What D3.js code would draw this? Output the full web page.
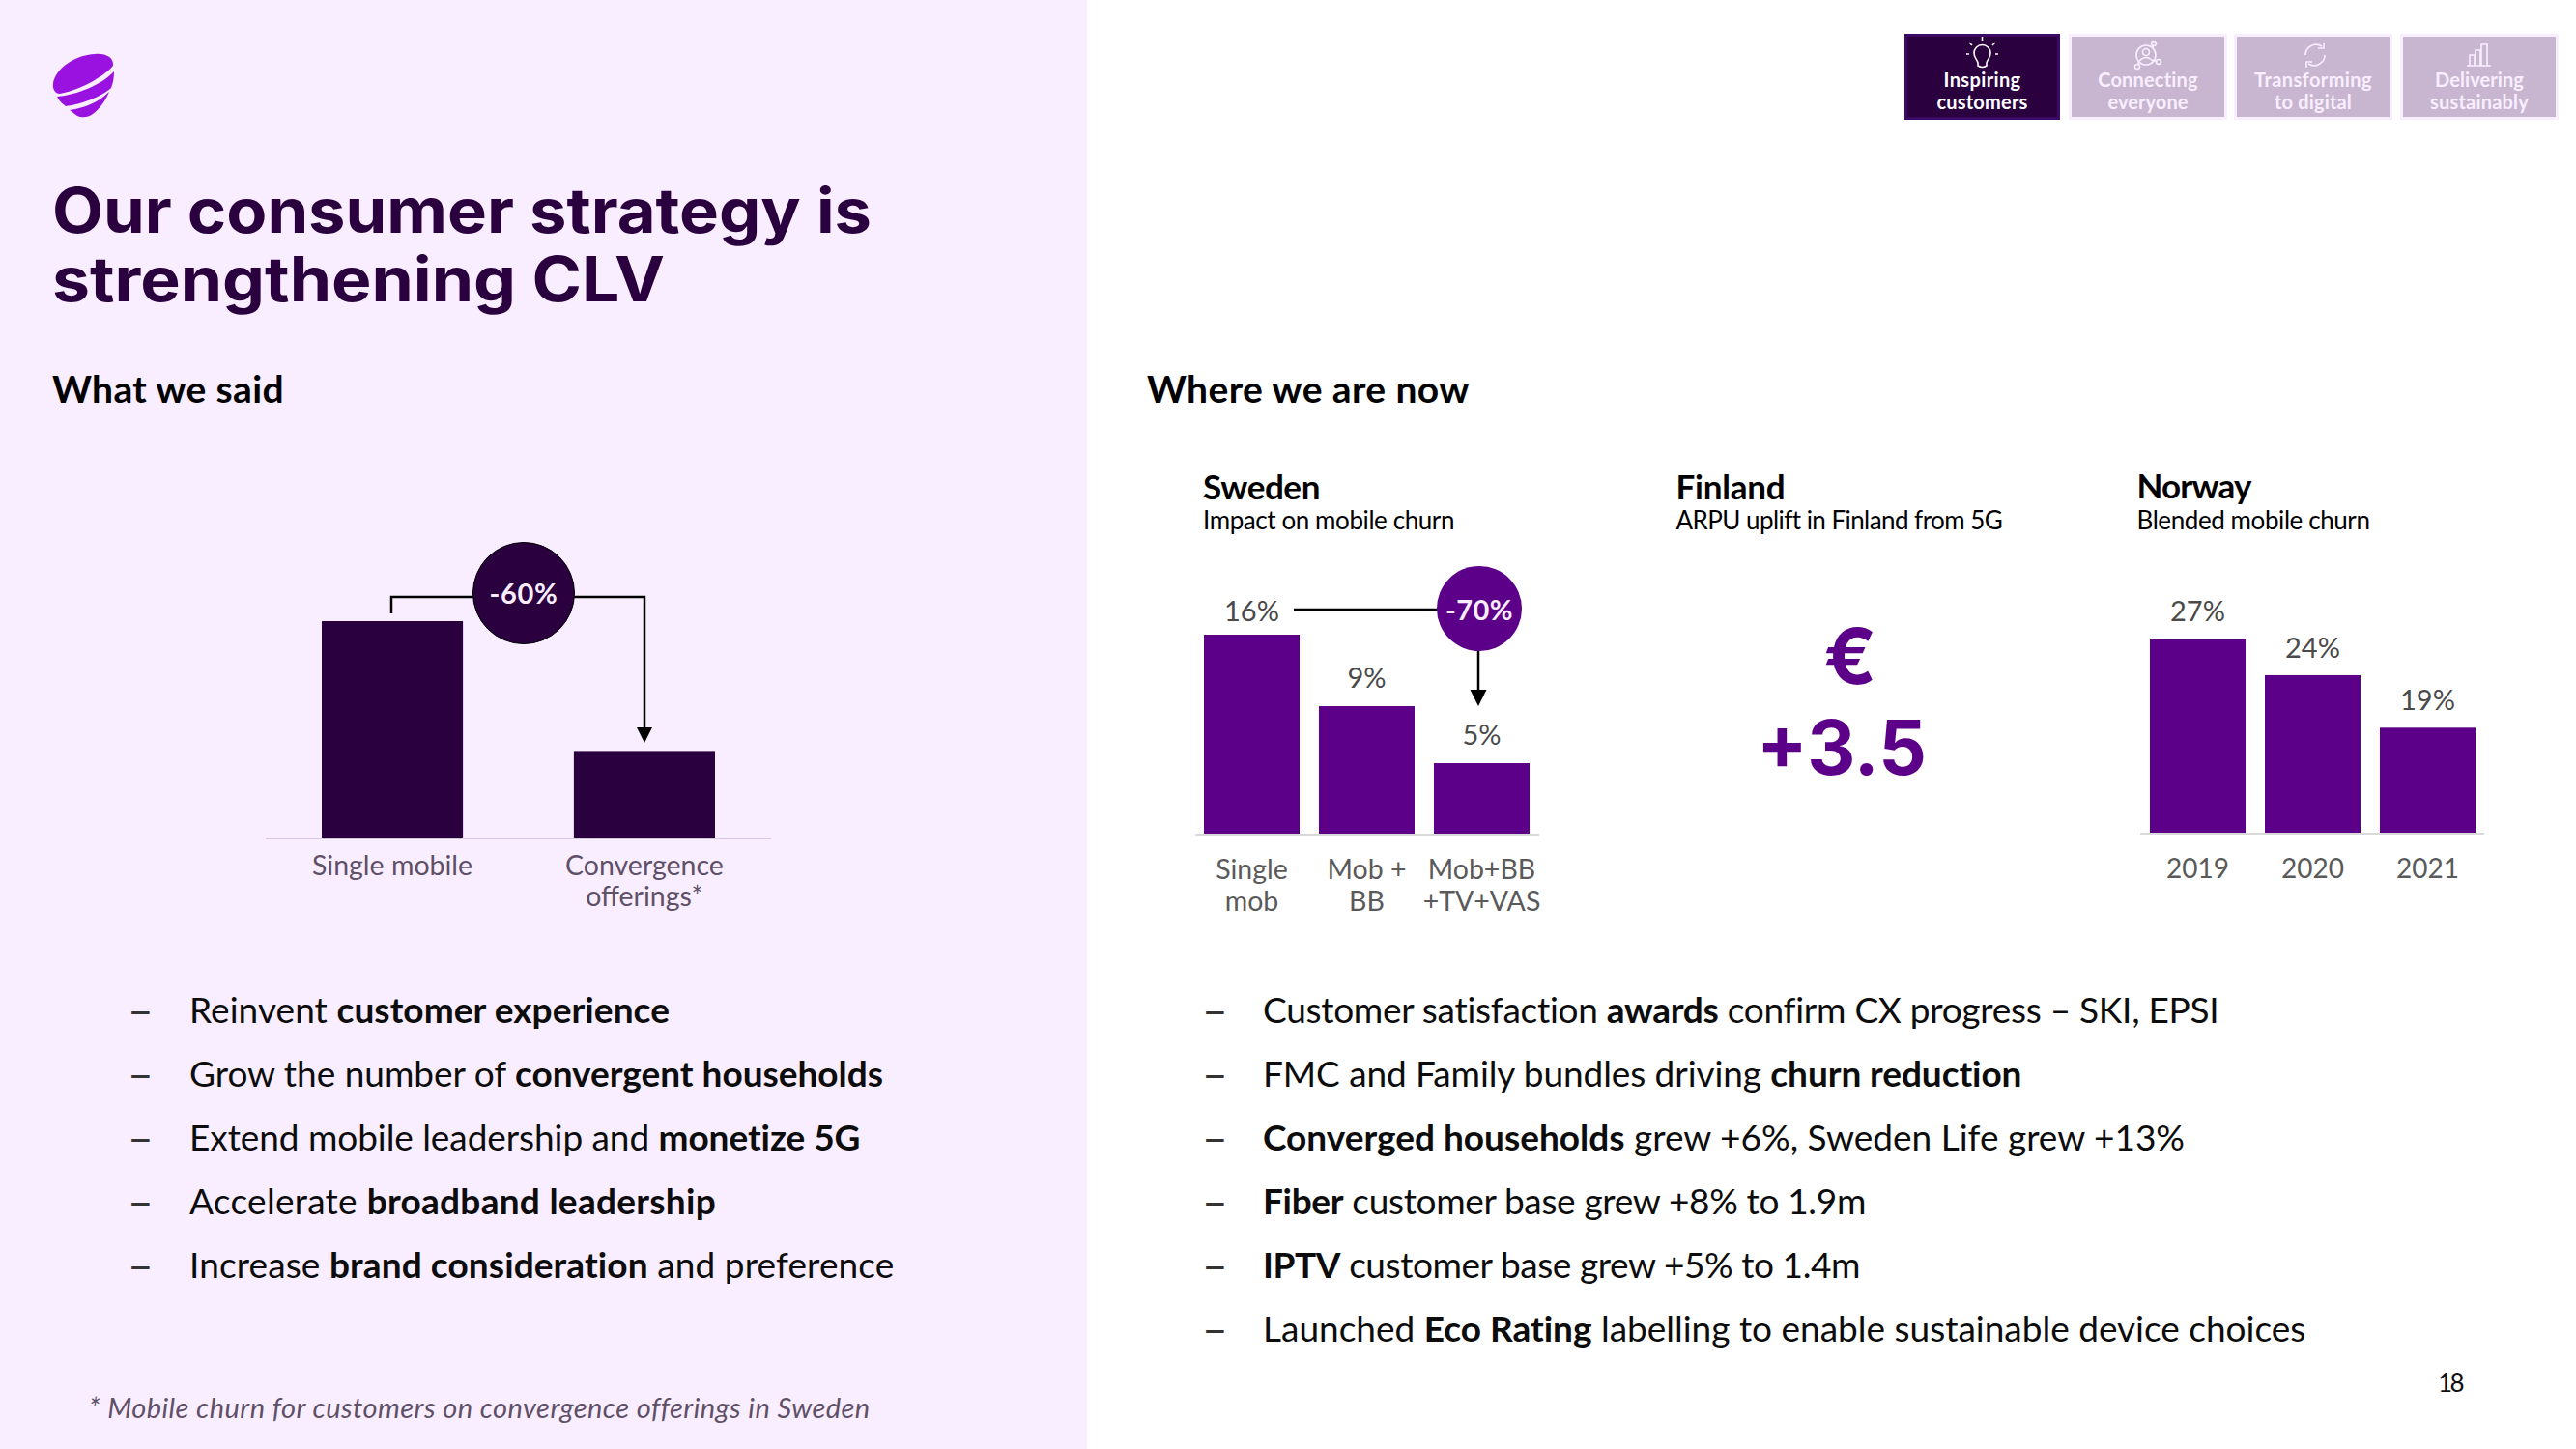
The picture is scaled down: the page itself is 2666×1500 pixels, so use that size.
<!DOCTYPE html>
<html><head><meta charset="utf-8">
<script src="https://cdn.jsdelivr.net/npm/d3@7/dist/d3.min.js"></script>
<style>html,body{margin:0;padding:0;background:#fff}svg{display:block}text{font-family:Lato,sans-serif}</style>
</head><body><svg id="c" width="2666" height="1500"></svg>
<script>
// ---- data ----
const saidCategories = ["Single mobile", "Convergence offerings*"];
const saidValues = [100, 40];
const swedenCategories = ["Single mob", "Mob + BB", "Mob+BB +TV+VAS"];
const swedenLabels = ["16%", "9%", "5%"];
const swedenBarLevels = [16, 10.25, 5.67];
const norwayCategories = ["2019", "2020", "2021"];
const norwayLabels = ["27%", "24%", "19%"];
const norwayBarLevels = [27, 21.9, 14.6];
const tiles = [["Inspiring","customers"],["Connecting","everyone"],["Transforming","to digital"],["Delivering","sustainably"]];
const tileTextWidths = [[80,94],[104,83],[122,80],[92,102]];
const saidBullets = [
 [["Reinvent ",0],["customer experience",1]],
 [["Grow the number of ",0],["convergent households",1]],
 [["Extend mobile leadership and ",0],["monetize 5G",1]],
 [["Accelerate ",0],["broadband leadership",1]],
 [["Increase ",0],["brand consideration",1],[" and preference",0]]];
const nowBullets = [
 [["Customer satisfaction ",0],["awards",1],[" confirm CX progress – SKI, EPSI",0]],
 [["FMC and Family bundles driving ",0],["churn reduction",1]],
 [["Converged households",1],[" grew +6%, Sweden Life grew +13%",0]],
 [["Fiber",1],[" customer base grew +8% to 1.9m",0]],
 [["IPTV",1],[" customer base grew +5% to 1.4m",0]],
 [["Launched ",0],["Eco Rating",1],[" labelling to enable sustainable device choices",0]]];
const saidBulletEnds = [693,914,891,741,926];
const nowBulletEnds = [2297,2093,2261,1931,1925,2387];

// ---- helpers ----
const svg = d3.select("#c");
const DEEP = "#2A003F", PURPLE = "#5C0089", LILAC = "#F9EEFF", GREY = "#4f4f4f", PGREY = "#5f5068";
function T(x,y,s,size,o={}){
  const t = svg.append("text").attr("x",x).attr("y",y).attr("font-size",size)
    .attr("fill",o.fill||"#000").attr("font-weight",o.weight||400)
    .attr("text-anchor",o.anchor||"start").text(s);
  if(o.family) t.style("font-family",o.family);
  if(o.italic) t.attr("font-style","italic");
  if(o.width) fit(t,o.width);
  if(o.stretch) t.attr("textLength",o.stretch).attr("lengthAdjust","spacingAndGlyphs");
  return t;
}
function fit(t,w){
  const n = t.text().length, cur = t.node().getComputedTextLength();
  t.style("letter-spacing",((w-cur)/n)+"px");
}
function bullets(rows,ends,dashX,textX){
  rows.forEach((runs,i)=>{
    const y = 1059 + i*66;
    T(dashX,y+3,"–",46,{fill:"#333"});
    const t = svg.append("text").attr("x",textX).attr("y",y).attr("font-size",37).attr("fill","#0c0c0c");
    runs.forEach(r=>t.append("tspan").attr("font-weight",r[1]?700:400).text(r[0]));
    fit(t,ends[i]-textX);
  });
}
function barChart(o){
  const x = d3.scaleBand().domain(o.cats).range(o.xr).paddingInner(o.pad).paddingOuter(0);
  const y = d3.scaleLinear().domain(o.yd).range(o.yr);
  svg.append("line").attr("x1",o.ax[0]).attr("x2",o.ax[1]).attr("y1",o.yr[0]+1).attr("y2",o.yr[0]+1)
     .attr("stroke",o.axc).attr("stroke-width",2);
  svg.selectAll(null).data(o.vals).enter().append("rect")
     .attr("x",(d,i)=>x(o.cats[i])).attr("width",x.bandwidth())
     .attr("y",d=>y(d)).attr("height",d=>y(o.yd[0])-y(d)).attr("fill",o.fill);
  const ax = svg.append("g").attr("transform",`translate(0,${o.yr[0]})`)
     .call(d3.axisBottom(x).tickSize(0).tickFormat(""));
  ax.select(".domain").remove();
  ax.selectAll(".tick text").each(function(d){
    const g = d3.select(this).attr("fill",o.tickc).attr("font-size",o.tickSize).attr("y",0).attr("dy",0);
    (o.wrap[d]||[d]).forEach((l,k)=>g.append("tspan").attr("x",0).attr("y",o.tickY+k*o.tickLead).text(l));
  });
  ax.selectAll(".tick text").style("font-family","Lato,sans-serif");
  if(o.labels) o.labels.forEach((l,i)=>{
    T(x(o.cats[i])+x.bandwidth()/2, y(o.vals[i])-o.labGap[i], l, 29, {anchor:"middle",fill:"#4a4a4a"});
  });
  return {x,y};
}
function arrowHead(xc,tip,hw,h){
  svg.append("path").attr("d",`M${xc-hw},${tip-h}L${xc+hw},${tip-h}L${xc},${tip}Z`).attr("fill","#000");
}

// ---- panels ----
svg.append("rect").attr("width",1125).attr("height",1500).attr("fill",LILAC);

// logo
const LOGO="#9A12E0";
svg.append("path").attr("fill",LOGO).attr("d","M55,86 C58,70 78,57 98,56 C110,55 118,60 117,68 C110,77 85,93 62,97 C57,97 54,92 55,86Z");
svg.append("path").attr("fill",LOGO).attr("d","M118,74 C118,80 117,86 115,91 C105,100 84,108 68,110 C64,107 61,104 59,100 C80,98 105,88 118,74Z");
svg.append("path").attr("fill",LOGO).attr("d","M113,95 C110,103 103,113 96,118 C91,122 84,122 80,120 C77,118 75,116 72,114 C88,112 103,105 113,95Z");

// heading
T(54,241,"Our consumer strategy is",64,{fill:DEEP,weight:700,family:"Inter,sans-serif",stretch:848});
T(54,312,"strengthening CLV",64,{fill:DEEP,weight:700,family:"Inter,sans-serif",stretch:634});
T(54,417,"What we said",39,{weight:700,width:240});
T(1187,417,"Where we are now",39,{weight:700,width:334});

// tiles
const tileX=[[1971,2132],[2144,2302],[2315,2473],[2487,2645]];
tiles.forEach((t,i)=>{
  const [a,b]=tileX[i], c=(a+b)/2;
  if(i===0){
    svg.append("rect").attr("x",a).attr("y",35).attr("width",b-a).attr("height",89).attr("fill","#3C0A66");
    svg.append("rect").attr("x",a+3).attr("y",38).attr("width",b-a-6).attr("height",83).attr("fill",DEEP);
  }else{
    svg.append("rect").attr("x",a-3).attr("y",35).attr("width",b-a+6).attr("height",89).attr("fill",LILAC);
    svg.append("rect").attr("x",a).attr("y",38).attr("width",b-a).attr("height",83).attr("fill","#C8B6D0");
  }
  const col = i===0?"#fff":LILAC;
  T(c,89.5,t[0],20,{anchor:"middle",fill:col,weight:700,width:tileTextWidths[i][0]});
  T(c,113,t[1],20,{anchor:"middle",fill:col,weight:700,width:tileTextWidths[i][1]});
});
const ic = svg.append("g").attr("fill","none").attr("stroke-width",1.6);
// bulb
ic.append("path").attr("stroke","#fff").attr("d","M2047,65 C2046,61 2043,60 2043,55 A8.5,8.5 0 1 1 2060,55 C2060,60 2057,61 2056,65 L2056,68 Q2051.5,71 2047,68Z M2051.5,38 V42 M2038,44 L2041,47 M2065,44 L2062,47 M2035,56 H2038 M2065,56 H2068");
// network
ic.append("g").attr("stroke",LILAC).call(g=>{
  g.append("circle").attr("cx",2221).attr("cy",57).attr("r",10);
  g.append("circle").attr("cx",2221).attr("cy",54).attr("r",3.5);
  g.append("path").attr("d","M2214,63 Q2221,56 2228,63 M2228,50 L2228,46 M2228,62 L2232,64 M2214,64 L2212,67");
  g.append("circle").attr("cx",2229).attr("cy",45).attr("r",2.5);
  g.append("circle").attr("cx",2234).attr("cy",64).attr("r",2.5);
  g.append("circle").attr("cx",2212).attr("cy",69).attr("r",2.5);
});
// sync
ic.append("path").attr("stroke",LILAC).attr("d","M2386,57 A11,11 0 0 1 2403,48 M2405,44 V50 H2399 M2406,57 A11,11 0 0 1 2389,66 M2387,70 V64 H2393");
// bars
ic.append("path").attr("stroke",LILAC).attr("d","M2553,68 H2578 M2556,68 V57 H2561 V68 M2562,68 V52 H2567 V68 M2568,68 V46 H2574 V68");

// what we said chart
barChart({cats:saidCategories,vals:saidValues,xr:[333,740],pad:0.44,yd:[0,100],yr:[867,643],fill:DEEP,
  ax:[275,798],axc:"#D6C8DE",tickc:PGREY,tickSize:28.5,tickY:38.5,tickLead:32,
  wrap:{"Convergence offerings*":["Convergence","offerings*"]}});
svg.append("path").attr("fill","none").attr("stroke","#000").attr("stroke-width",2.5)
   .attr("d","M405,635 V618 H667 V755");
arrowHead(667,769,8,16);
svg.append("circle").attr("cx",542).attr("cy",614).attr("r",52.5).attr("fill",DEEP).attr("stroke","#000").attr("stroke-width",1);
T(542,624.5,"-60%",29,{anchor:"middle",fill:LILAC,weight:700,width:71});

// Sweden
T(1245,516.5,"Sweden",35,{weight:700,width:121});
T(1245,548,"Impact on mobile churn",26,{width:260});
barChart({cats:swedenCategories,vals:swedenBarLevels,labels:swedenLabels,xr:[1246,1583],pad:0.168,yd:[0,16],yr:[863,657],fill:PURPLE,
  ax:[1237,1593],axc:"#D9D9D9",tickc:"#5a5a5a",tickSize:28.5,tickY:47,tickLead:33,labGap:[14,19,19],
  wrap:{"Single mob":["Single","mob"],"Mob + BB":["Mob +","BB"],"Mob+BB +TV+VAS":["Mob+BB","+TV+VAS"]}});
svg.append("line").attr("x1",1339).attr("x2",1490).attr("y1",631).attr("y2",631).attr("stroke","#000").attr("stroke-width",2.5);
svg.append("line").attr("x1",1530).attr("x2",1530).attr("y1",674).attr("y2",716).attr("stroke","#000").attr("stroke-width",2.5);
arrowHead(1530,731,8.5,17);
svg.append("circle").attr("cx",1531).attr("cy",630).attr("r",44).attr("fill",PURPLE);
T(1531,641.5,"-70%",29,{anchor:"middle",fill:LILAC,weight:700,width:70});

// Finland
T(1734.5,516.5,"Finland",35,{weight:700,width:113});
T(1734.5,548,"ARPU uplift in Finland from 5G",26,{width:337});
T(1915,708,"€",80,{anchor:"middle",fill:PURPLE,weight:700,family:"Inter,sans-serif"});
T(1818,802,"+3.5",78,{fill:PURPLE,weight:700,family:"Inter,sans-serif",stretch:176});

// Norway
T(2211.5,516,"Norway",35,{weight:700,width:118});
T(2211.5,548,"Blended mobile churn",26,{width:241});
barChart({cats:norwayCategories,vals:norwayBarLevels,labels:norwayLabels,xr:[2225,2562],pad:0.168,yd:[0,27],yr:[862,661],fill:PURPLE,
  ax:[2215,2571],axc:"#D9D9D9",tickc:"#5a5a5a",tickSize:28,tickY:47,tickLead:33,labGap:[18,18,18],wrap:{}});

// bullets
bullets(saidBullets,saidBulletEnds,132,196);
bullets(nowBullets,nowBulletEnds,1244,1307);

// footnote and page number
T(92,1468,"* Mobile churn for customers on convergence offerings in Sweden",29,{italic:true,fill:PGREY,width:808});
T(2523,1441,"18",26,{fill:"#111",width:25});
</script></body></html>
